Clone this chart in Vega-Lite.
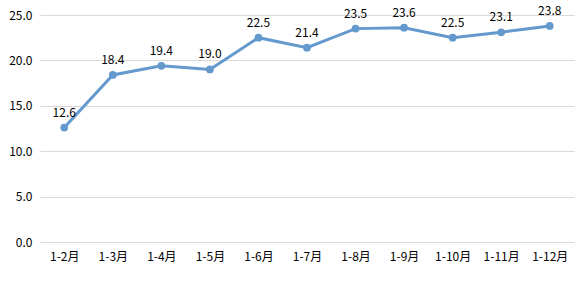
{
  "$schema": "https://vega.github.io/schema/vega-lite/v6.json",
  "width": 534,
  "height": 227,
  "autosize": {"type": "none"},
  "padding": {"left": 40, "top": 15, "right": 14, "bottom": 48},
  "background": "white",
  "config": {
    "view": {"stroke": null},
    "font": "Noto Sans CJK SC",
    "axis": {"labelFont": "Noto Sans CJK SC", "labelFontSize": 12, "labelColor": "#000000", "title": null}
  },
  "data": {
    "values": [
      {"m": "1-2月", "v": 12.6},
      {"m": "1-3月", "v": 18.4},
      {"m": "1-4月", "v": 19.4},
      {"m": "1-5月", "v": 19.0},
      {"m": "1-6月", "v": 22.5},
      {"m": "1-7月", "v": 21.4},
      {"m": "1-8月", "v": 23.5},
      {"m": "1-9月", "v": 23.6},
      {"m": "1-10月", "v": 22.5},
      {"m": "1-11月", "v": 23.1},
      {"m": "1-12月", "v": 23.8}
    ]
  },
  "encoding": {
    "x": {
      "field": "m", "type": "ordinal", "sort": null,
      "scale": {"type": "point", "padding": 0.5},
      "axis": {"labelAngle": 0, "domain": false, "ticks": false, "labelPadding": 9, "grid": false}
    },
    "y": {
      "field": "v", "type": "quantitative",
      "scale": {"domain": [0, 25], "nice": false},
      "axis": {"values": [0, 5, 10, 15, 20, 25], "format": ".1f", "domain": false, "ticks": false, "labelPadding": 8, "gridColor": "#D9D9D9", "gridWidth": 1}
    }
  },
  "layer": [
    {"mark": {"type": "line", "color": "#6499CD", "strokeWidth": 3, "point": {"filled": true, "size": 60, "color": "#6499CD"}}},
    {"mark": {"type": "text", "dy": -15, "fontSize": 12, "color": "#000000", "font": "Noto Sans CJK SC"},
     "encoding": {"text": {"field": "v", "type": "quantitative", "format": ".1f"}}}
  ]
}
